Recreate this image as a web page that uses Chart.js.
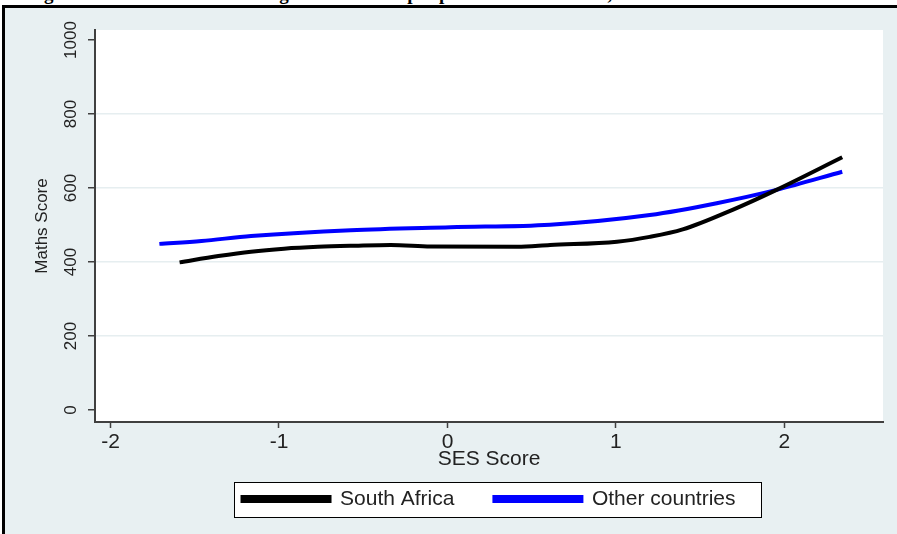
<!DOCTYPE html>
<html>
<head>
<meta charset="utf-8">
<script src="https://cdn.jsdelivr.net/npm/chart.js@4.4.1/dist/chart.umd.min.js"></script>
<style>
  html, body { margin: 0; padding: 0; background: #fff; overflow: hidden; }
  #caption {
    position: absolute; left: 27px; top: -16px; white-space: nowrap;
    font: bold 19px "Liberation Serif", "Times New Roman", serif; line-height: 19px; color: #000;
  }
  #frame {
    position: absolute; left: 2px; top: 5px; width: 920px; height: 560px;
    border: 3px solid #000; background: #e8f0f2;
  }
  #wrap { position: absolute; left: 0; top: 0; width: 897px; height: 534px; }
</style>
</head>
<body>
<div id="caption">Figure 4: Mathematics score regressed on SES per province and district, 2003</div>
<div id="frame"></div>
<div id="wrap"><canvas id="sesChart" width="897" height="534"></canvas></div>
<script>
// values
var sesSA = [-1.59, -1.36, -1.166, -0.97, -0.769, -0.55, -0.337, -0.1, 0.414, 0.609, 1.006, 1.20, 1.396, 1.692, 1.953, 2.343];
var mathsSA = [399, 416, 428, 436, 441, 444, 446, 442, 441, 446, 455, 468, 488, 541, 595, 683];
var sesOther = [-1.71, -1.46, -1.166, -0.574, 0.018, 0.609, 1.201, 1.598, 1.953, 2.343];
var mathsOther = [449, 457, 470, 486, 494, 501, 527, 559, 595, 644];
var xTicks = [-2, -1, 0, 1, 2];
var yTicks = [0, 200, 400, 600, 800, 1000];
var seriesNames = ["South Africa", "Other countries"];

var FONT = "'Liberation Sans', Arial, Helvetica, sans-serif";

function toPoints(xs, ys) {
    var pts = [];
    for (var i = 0; i < xs.length; i++) pts.push({ x: xs[i], y: ys[i] });
    return pts;
}

// white plot region + boxed legend
var backdrop = {
    id: 'backdrop',
    beforeDraw: function (chart) {
	var c = chart.ctx, a = chart.chartArea;
	c.save();
	c.fillStyle = '#ffffff';
	c.fillRect(a.left, a.top, a.right - a.left, a.bottom - a.top);
	var hb = chart.legend.legendHitBoxes;
	if (hb && hb.length) {
	    var last = hb[hb.length - 1];
	    var left = Math.round(hb[0].left - 9);
	    var right = Math.round(last.left + last.width + 26);
	    var top = Math.round(hb[0].top + 10.5 - 17.5);
	    c.fillRect(left, top, right - left, 35);
	    c.strokeStyle = '#000';
	    c.lineWidth = 1;
	    c.strokeRect(left + 0.5, top + 0.5, right - left, 35);
	}
	c.restore();
    }
};

var ctx = document.getElementById("sesChart");
var chart = new Chart(ctx, {
    type : 'line',
    data : {
	datasets : [ {
	    label : seriesNames[0],
	    data : toPoints(sesSA, mathsSA),
	    borderColor : '#000000',
	    backgroundColor : '#000000',
	    borderWidth : 4,
	    pointRadius : 0,
	    cubicInterpolationMode : 'monotone'
	}, {
	    label : seriesNames[1],
	    data : toPoints(sesOther, mathsOther),
	    borderColor : '#0000ff',
	    backgroundColor : '#0000ff',
	    borderWidth : 4,
	    pointRadius : 0,
	    cubicInterpolationMode : 'monotone'
	} ]
    },
    options : {
	responsive : false,
	animation : false,
	events : [],
	layout : { padding : { left : 0, right : 14, top : 30, bottom : 14.5 } },
	plugins : {
	    tooltip : { enabled : false },
	    legend : {
		position : 'bottom',
		fullSize : false,
		labels : {
		    boxWidth : 87,
		    boxHeight : 4,
		    padding : 40,
		    color : '#222',
		    font : { family : FONT, size : 21 }
		}
	    }
	},
	scales : {
	    x : {
		type : 'linear',
		min : -2.092,
		max : 2.585,
		afterBuildTicks : function (s) { s.ticks = xTicks.map(function (v) { return { value : v }; }); },
		afterFit : function (s) { s.height = 26.5; },
		border : { display : true, color : '#404040', width : 2 },
		grid : { drawOnChartArea : false, tickLength : 6, tickColor : '#404040', tickWidth : 1.5 },
		ticks : { color : '#222', padding : 1.4, maxRotation : 0, font : { family : FONT, size : 21 },
			  callback : function (v) { return String(v); } },
		title : { display : true, text : 'SES Score', color : '#222', padding : { top : 0, bottom : -23.1 },
			  font : { family : FONT, size : 21 } }
	    },
	    y : {
		min : -32.4,
		max : 1027,
		afterBuildTicks : function (s) { s.ticks = yTicks.map(function (v) { return { value : v }; }); },
		afterFit : function (s) { s.width = 95; },
		border : { display : true, color : '#404040', width : 2 },
		grid : {
		    color : function (c) { return (c.tick && c.tick.value > 0 && c.tick.value < 1000) ? '#e6eef0' : 'rgba(0,0,0,0)'; },
		    lineWidth : 1.5,
		    tickLength : 7, tickColor : '#404040', tickWidth : 1.5
		},
		ticks : { color : '#222', padding : -2, minRotation : 90, maxRotation : 90, crossAlign : 'center',
			  font : { family : FONT, size : 17 },
			  callback : function (v) { return String(v); } },
		title : { display : true, text : 'Maths Score', color : '#222',
			  padding : { top : 31.8, bottom : 0 }, font : { family : FONT, size : 17 } }
	    }
	}
    },
    plugins : [ backdrop ]
});
</script>
</body>
</html>
